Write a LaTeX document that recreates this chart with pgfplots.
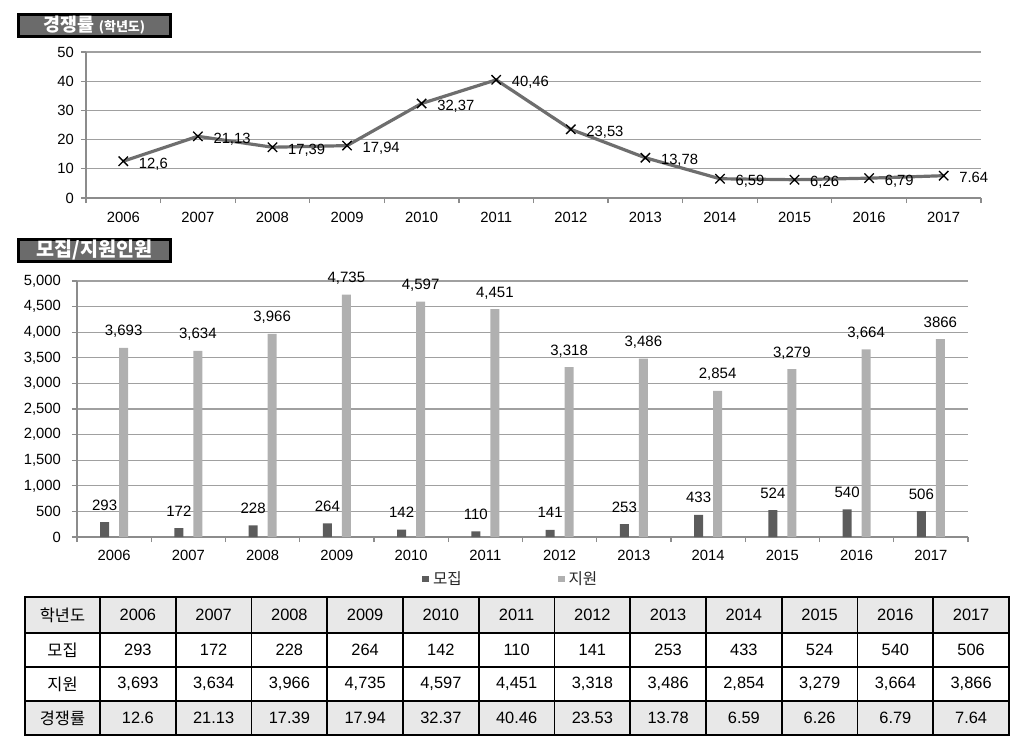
\documentclass[border=0pt]{standalone}
\usepackage{pgfplots}
\usepackage{pgfplotstable}
\pgfplotsset{compat=1.18}
\usepackage{fontspec}
\setmainfont{Liberation Sans}
\newfontfamily\kr{Noto Sans CJK KR}
\definecolor{titlegray}{HTML}{6B6B6B}
\definecolor{bardark}{HTML}{5C5C5C}
\definecolor{barlight}{HTML}{B0B0B0}
\definecolor{linegray}{HTML}{6E6E6E}
\definecolor{gridgray}{HTML}{A0A0A0}
\definecolor{axisgray}{HTML}{8C8C8C}
\definecolor{tablegray}{HTML}{E8E8E8}

\pgfplotstableread{
x mojip mojipl jiwon jiwonl rate ratel
0 293 293 3693 3,693 12.6 12,6
1 172 172 3634 3,634 21.13 21,13
2 228 228 3966 3,966 17.39 17,39
3 264 264 4735 4,735 17.94 17,94
4 142 142 4597 4,597 32.37 32,37
5 110 110 4451 4,451 40.46 40,46
6 141 141 3318 3,318 23.53 23,53
7 253 253 3486 3,486 13.78 13,78
8 433 433 2854 2,854 6.59 6,59
9 524 524 3279 3,279 6.26 6,26
10 540 540 3664 3,664 6.79 6,79
11 506 506 3866 3866 7.64 7.64
}\data

\pgfplotsset{
  common/.style={
    anchor=south west, scale only axis,
    xmin=-0.5, xmax=11.5,
    xtick={-0.5,0.5,...,11.5},
    x tick label as interval,
    xticklabels={2006,2007,2008,2009,2010,2011,2012,2013,2014,2015,2016,2017},
    axis x line*=bottom, axis y line*=left,
    axis line style={axisgray, line width=0.6pt, -},
    ymajorgrids, grid style={gridgray, line width=0.6pt},
    tick align=outside, major tick length=2.5pt,
    tick style={axisgray, line width=0.6pt},
    ticklabel style={font=\fontsize{7.4}{8}\selectfont},
    /pgf/number format/assume math mode=true,
    clip=false,
  },
}

\begin{document}
\begin{tikzpicture}
\path[use as bounding box] (0pt,0pt) rectangle (512pt,-369.5pt);

% title boxes
\node[draw=black, line width=1.5pt, fill=titlegray, minimum width=76pt, minimum height=11pt, inner sep=0pt, text=white]
  at (47.25pt,-12.75pt) {\kr\bfseries\fontsize{9.2}{10}\selectfont 경쟁률 {\fontsize{6.5}{7}\selectfont (학년도)}};
\node[draw=black, line width=1.5pt, fill=titlegray, minimum width=76pt, minimum height=11pt, inner sep=0pt, text=white]
  at (47.25pt,-125pt) {\kr\bfseries\fontsize{9.8}{10}\selectfont 모집/지원인원};

% top chart
\begin{axis}[common,
  at={(43pt,-99pt)}, width=447.5pt, height=73pt,
  ymin=0, ymax=50, ytick={0,10,...,50},
  xticklabel style={yshift=-1pt},
]
\addplot[linegray, line width=1.6pt, mark=x, mark size=3.3pt,
  mark options={black, line width=0.65pt, solid},
  nodes near coords, point meta=explicit symbolic,
  every node near coord/.append style={anchor=base west, inner sep=0pt, xshift=7.5pt, yshift=-3.5pt, font=\fontsize{7.4}{8}\selectfont, text=black}]
  table[x=x, y=rate, meta=ratel]{\data};
\end{axis}

% bottom chart
\begin{axis}[common,
  at={(38.5pt,-268.5pt)}, width=445.5pt, height=128pt,
  ymin=0, ymax=5000, ytick={0,500,...,5000},
  scaled y ticks=false,
  /pgf/number format/1000 sep={,},
  yticklabel style={xshift=-2pt},
  xticklabel style={yshift=-0.5pt},
  ybar, bar width=4.5pt,
  legend columns=2,
  legend style={at={(0.488,-0.165)}, anchor=center, draw=none, fill=none,
    font=\kr\fontsize{7.8}{9}\selectfont, text=black!85,
    /tikz/every even column/.append style={column sep=46pt}},
]
\addplot[fill=bardark, draw=none, bar shift=-4.75pt,
  nodes near coords, point meta=explicit symbolic,
  every node near coord/.append style={anchor=base, inner sep=0pt, yshift=6pt, font=\fontsize{7.5}{8}\selectfont, text=black},
  legend image code/.code={\fill[bardark] (0pt,-1.6pt) rectangle (3.4pt,1.8pt);}]
  table[x=x, y=mojip, meta=mojipl]{\data};
\addplot[fill=barlight, draw=none, bar shift=4.75pt,
  nodes near coords, point meta=explicit symbolic,
  every node near coord/.append style={anchor=base, inner sep=0pt, yshift=6pt, font=\fontsize{7.5}{8}\selectfont, text=black},
  legend image code/.code={\fill[barlight] (0pt,-1.6pt) rectangle (3.4pt,1.8pt);}]
  table[x=x, y=jiwon, meta=jiwonl]{\data};
\legend{모집,지원}
\end{axis}

% table
\fill[tablegray] (12.5pt,-298.5pt) rectangle (504.5pt,-316.5pt);
\fill[tablegray] (12.5pt,-350.5pt) rectangle (504.5pt,-367.5pt);
\foreach \yy in {-316.5,-333.5,-350.5}
  \draw[line width=0.8pt] (12.5pt,\yy pt) -- (504.5pt,\yy pt);
\foreach \k in {0,...,11}
  \draw[line width=0.8pt] ({50pt+37.875pt*\k},-298.5pt) -- ({50pt+37.875pt*\k},-367.5pt);
\draw[line width=1pt] (12.5pt,-298.5pt) rectangle (504.5pt,-367.5pt);

\begin{scope}[every node/.style={font=\fontsize{8.2}{9}\selectfont, inner sep=0pt}]
\node at (31.25pt,-307.5pt) {\kr 학년도};
\node at (31.25pt,-325pt) {\kr 모집};
\node at (31.25pt,-342pt) {\kr 지원};
\node at (31.25pt,-359pt) {\kr 경쟁률};
\foreach \v [count=\i from 0] in {2006,2007,2008,2009,2010,2011,2012,2013,2014,2015,2016,2017}
  \node at ({50pt+37.875pt*(\i+0.5)},-307.5pt) {\v};
\foreach \v [count=\i from 0] in {293,172,228,264,142,110,141,253,433,524,540,506}
  \node at ({50pt+37.875pt*(\i+0.5)},-325pt) {\v};
\foreach \v [count=\i from 0] in {{3,693},{3,634},{3,966},{4,735},{4,597},{4,451},{3,318},{3,486},{2,854},{3,279},{3,664},{3,866}}
  \node at ({50pt+37.875pt*(\i+0.5)},-342pt) {\v};
\foreach \v [count=\i from 0] in {12.6,21.13,17.39,17.94,32.37,40.46,23.53,13.78,6.59,6.26,6.79,7.64}
  \node at ({50pt+37.875pt*(\i+0.5)},-359pt) {\v};
\end{scope}
\end{tikzpicture}
\end{document}
